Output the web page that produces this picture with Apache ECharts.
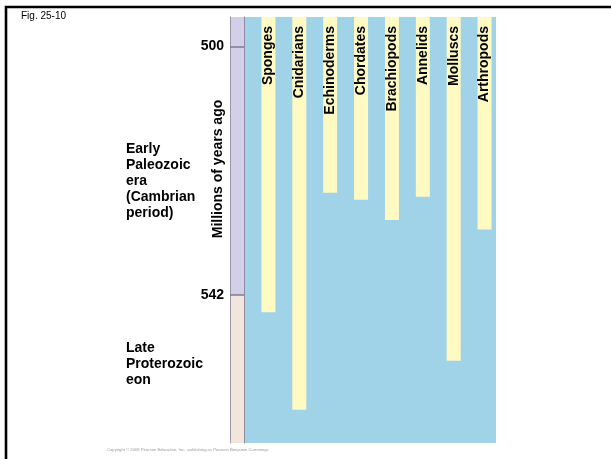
<!DOCTYPE html>
<html>
<head>
<meta charset="utf-8">
<script src="https://cdn.jsdelivr.net/npm/echarts@6/dist/echarts.min.js"></script>
<style>
  html, body { margin: 0; padding: 0; background: #fff; }
  #chart { width: 611px; height: 459px; }
</style>
</head>
<body>
<div id="chart"></div>
<script>
// Animal groups and the first appearance of each in the fossil record (millions of years ago)
const groups = ['Sponges', 'Cnidarians', 'Echinoderms', 'Chordates', 'Brachiopods', 'Annelids', 'Molluscs', 'Arthropods'];
const originMya = [544.9, 561.4, 524.7, 525.9, 529.3, 525.4, 553.1, 530.9];
const tickMya = [500, 542];
const cambrianStart = 542;
const eraLabels = ['Early\nPaleozoic\nera\n(Cambrian\nperiod)', 'Late\nProterozoic\neon'];
const axisTitle = 'Millions of years ago';

// visible time window of the time axis
const timeTop = 495, timeBottom = 567;

const FONT = 'Arial, "Liberation Sans", Helvetica, sans-serif';
const BLUE = '#a0d2e8', YELLOW = '#fffac2', LILAC = '#d4cfe8', BEIGE = '#f2e6dc';

const chart = echarts.init(document.getElementById('chart'), null, { renderer: 'canvas' });

const hiddenTime = (gridIndex) => ({
  type: 'value', gridIndex, inverse: true, min: timeTop, max: timeBottom,
  startValue: timeTop, show: false
});

chart.setOption({
  animation: false,
  backgroundColor: '#fff',
  grid: [
    { left: 253, width: 247, top: 17, height: 426 },                      // bars
    { left: 244, width: 252, top: 17, height: 426, show: true,
      backgroundColor: BLUE, borderWidth: 0 },                           // panel
    { left: 230, width: 14, top: 17, height: 426 }                        // time strip
  ],
  xAxis: [
    { type: 'category', gridIndex: 0, data: groups, show: false },
    { type: 'value', gridIndex: 1, show: false },
    { type: 'value', gridIndex: 2, show: false, min: 0, max: 1 }
  ],
  yAxis: [
    hiddenTime(0),
    hiddenTime(1),
    {
      type: 'value', gridIndex: 2, inverse: true, min: timeTop, max: timeBottom, position: 'left', z: 10,
      axisLine: { show: true, lineStyle: { color: '#9a97a8', width: 1 } },
      axisTick: { show: true, inside: true, length: 14, customValues: tickMya,
                  lineStyle: { color: '#7f7a99', width: 1.5 } },
      axisLabel: { show: true, customValues: tickMya, margin: 6, fontSize: 14, fontWeight: 'bold',
                   color: '#000', fontFamily: FONT },
      splitLine: { show: false }
    },
    {
      type: 'value', gridIndex: 2, inverse: true, min: timeTop, max: timeBottom, position: 'right', z: 10,
      axisLine: { show: true, lineStyle: { color: '#8f8c9e', width: 1 } },
      axisTick: { show: false }, axisLabel: { show: false }, splitLine: { show: false }
    }
  ],
  series: [
    {
      // era bands on the time strip
      type: 'line', xAxisIndex: 2, yAxisIndex: 2, data: [], silent: true, z: 1,
      markArea: {
        silent: true,
        label: { show: false },
        data: [
          [{ yAxis: timeTop, itemStyle: { color: LILAC } }, { yAxis: cambrianStart }],
          [{ yAxis: cambrianStart, itemStyle: { color: BEIGE } }, { yAxis: timeBottom }]
        ]
      }
    },
    {
      type: 'bar', xAxisIndex: 0, yAxisIndex: 0, data: originMya, barWidth: 14,
      itemStyle: { color: YELLOW },
      label: {
        show: true, formatter: '{b}', position: 'insideTop', rotate: 90,
        align: 'right', verticalAlign: 'middle', distance: 9,
        fontFamily: FONT, fontSize: 14, fontWeight: 'bold', color: '#000'
      }
    }
  ],
  graphic: [
    { type: 'polyline', silent: true,
      shape: { points: [[6, 459], [6, 7], [611, 7]] },
      style: { stroke: '#000', lineWidth: 2.6, fill: null } },
    { type: 'text', x: 21, y: 16,
      style: { text: 'Fig. 25-10', font: '10px ' + FONT, fill: '#000', verticalAlign: 'middle' } },
    { type: 'text', x: 218, y: 169, rotation: Math.PI / 2,
      style: { text: axisTitle, font: 'bold 14px ' + FONT, fill: '#000', align: 'center', verticalAlign: 'middle' } },
    { type: 'text', x: 126, y: 141,
      style: { text: eraLabels[0], font: 'bold 14px ' + FONT, lineHeight: 16, fill: '#000', verticalAlign: 'top' } },
    { type: 'text', x: 126, y: 340,
      style: { text: eraLabels[1], font: 'bold 14px ' + FONT, lineHeight: 16, fill: '#000', verticalAlign: 'top' } },
    { type: 'text', x: 107, y: 449.5,
      style: { text: 'Copyright \u00a9 2008 Pearson Education, Inc., publishing as Pearson Benjamin Cummings',
               font: '4.2px ' + FONT, fill: '#9a9a9a', verticalAlign: 'middle' } }
  ]
});
</script>
</body>
</html>
